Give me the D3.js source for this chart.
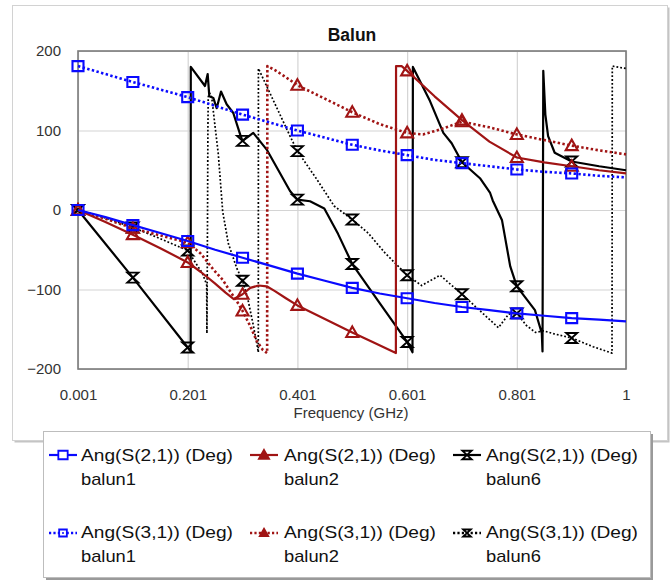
<!DOCTYPE html>
<html><head><meta charset="utf-8">
<script src="https://cdn.jsdelivr.net/npm/d3@7"></script>
<style>
body{margin:0;background:#fff;}
svg{display:block;font-family:"Liberation Sans",Arial,sans-serif;}
</style></head><body>
<svg id="c" width="670" height="581"></svg>
<script>
// ---------- data ----------
const chartTitle = "Balun";
const xTitle = "Frequency (GHz)";
const xTicks = [0.001, 0.201, 0.401, 0.601, 0.801, 1];
const xTickLabels = ["0.001", "0.201", "0.401", "0.601", "0.801", "1"];
const yTicks = [-200, -100, 0, 100, 200];
const markerFreqs = [0.001, 0.101, 0.201, 0.301, 0.401, 0.501, 0.601, 0.701, 0.801, 0.901];

const balun1_S21 = [[0.001,0],[0.051,-9],[0.101,-19],[0.151,-29],[0.201,-39],[0.251,-50],[0.301,-60],[0.351,-70],[0.401,-80],[0.451,-89],[0.501,-98],[0.551,-105],[0.601,-111],[0.651,-117],[0.701,-122],[0.751,-126],[0.801,-130],[0.851,-133],[0.901,-136],[0.951,-138],[1.0,-140]];
const balun1_S31 = [[0.001,181],[0.101,161],[0.201,142],[0.301,120],[0.401,100],[0.451,91],[0.501,82],[0.551,75],[0.601,69],[0.651,63],[0.701,59],[0.751,55],[0.801,51],[0.851,48],[0.901,46],[0.951,43],[1.0,41]];
const balun2_S21 = [[0.001,0],[0.051,-15],[0.101,-31],[0.151,-48],[0.201,-66],[0.225,-78],[0.25,-92],[0.27,-104],[0.285,-112],[0.301,-106],[0.315,-98],[0.33,-95],[0.345,-96],[0.36,-102],[0.38,-111],[0.401,-120],[0.451,-137],[0.501,-154],[0.541,-167],[0.5805,-180],[0.5808,181],[0.591,181],[0.601,175],[0.651,143],[0.701,113],[0.751,86],[0.801,66],[0.851,60],[0.901,55],[0.951,50],[1.0,46]];
const balun2_S31 = [[0.001,0],[0.051,-11],[0.101,-23],[0.151,-32],[0.201,-41],[0.225,-55],[0.248,-75],[0.265,-88],[0.278,-102],[0.29,-114],[0.301,-127],[0.315,-146],[0.327,-165],[0.338,-176],[0.3458,-180],[0.3462,181],[0.36,176],[0.38,167],[0.401,157],[0.451,140],[0.501,123],[0.551,108],[0.601,97],[0.63,95],[0.66,101],[0.701,111],[0.751,104],[0.801,95],[0.851,88],[0.901,81],[0.951,75],[1.0,70]];
const balun6_S21 = [[0.001,0],[0.101,-85],[0.201,-173],[0.2064,-178],[0.2066,180],[0.2325,156],[0.2374,171],[0.2404,143],[0.2477,141],[0.2538,128],[0.2617,149],[0.272,133],[0.2841,122],[0.2976,93],[0.301,87],[0.3205,97],[0.345,76],[0.3875,24],[0.401,13],[0.424,11],[0.45,2],[0.475,-30],[0.501,-68],[0.551,-117],[0.601,-166],[0.6108,-179],[0.6115,180],[0.6427,137],[0.667,97],[0.6822,84],[0.701,60],[0.7338,40],[0.752,22],[0.757,12],[0.774,-13],[0.789,-71],[0.801,-96],[0.834,-126],[0.8465,-155],[0.8478,-178],[0.8492,175],[0.853,120],[0.858,93],[0.87,72],[0.901,61],[0.951,55],[1.0,50]];
const balun6_S31 = [[0.001,0],[0.051,-10],[0.101,-22],[0.151,-36],[0.201,-51],[0.215,-66],[0.228,-80],[0.2356,-94],[0.236,-155],[0.2365,-94],[0.2372,0],[0.2378,100],[0.2384,142],[0.241,147],[0.2447,142],[0.2568,70],[0.2648,-2],[0.275,-42],[0.2903,-73],[0.301,-89],[0.31,-110],[0.32,-143],[0.327,-168],[0.3297,-179],[0.3299,178],[0.3875,93],[0.401,74],[0.435,40],[0.468,5],[0.501,-12],[0.53,-29],[0.5606,-54],[0.601,-82],[0.6275,-95],[0.661,-82],[0.701,-106],[0.7674,-148],[0.786,-131],[0.801,-130],[0.818,-145],[0.835,-154],[0.85,-152],[0.87,-156],[0.901,-161],[0.94,-172],[0.9745,-180],[0.975,181],[1.0,178]];

const legendLine1 = ["Ang(S(2,1)) (Deg)", "Ang(S(3,1)) (Deg)"];
const legendLine2 = ["balun1", "balun2", "balun6"];

// ---------- styles ----------
const BLUE = "#0a0aff", RED = "#a01414", BLACK = "#000";
const series = [
  {data: balun6_S31, color: BLACK, width: 1.7, dash: "1.8,2", shape: "hour", col: 2, row: 1},
  {data: balun6_S21, color: BLACK, width: 2.2, dash: null, shape: "hour", col: 2, row: 0},
  {data: balun2_S31, color: RED, width: 2.6, dash: "2.4,2.4", shape: "tri", col: 1, row: 1},
  {data: balun2_S21, color: RED, width: 2.2, dash: null, shape: "tri", col: 1, row: 0},
  {data: balun1_S31, color: BLUE, width: 2.6, dash: "2.4,2.4", shape: "sq", col: 0, row: 1},
  {data: balun1_S21, color: BLUE, width: 2.2, dash: null, shape: "sq", col: 0, row: 0}
];

const svg = d3.select("#c");
const L = 78, R = 626, T = 51, B = 369;
const x = d3.scaleLinear().domain([0.001, 1]).range([L, R]);
const y = d3.scaleLinear().domain([-200, 200]).range([B, T]);

// chart frame with shadow
svg.append("rect").attr("x", 14.5).attr("y", 7.5).attr("width", 655).attr("height", 435).attr("fill", "#c4c4c4");
svg.append("rect").attr("x", 12.5).attr("y", 5.5).attr("width", 655).attr("height", 435)
  .attr("fill", "#fff").attr("stroke", "#d2d2d2");

// title
svg.append("text").attr("x", 352).attr("y", 41).attr("text-anchor", "middle")
  .attr("font-size", 17.5).attr("font-weight", "bold").attr("fill", "#111").text(chartTitle);

// grid
const gx = svg.append("g").attr("transform", `translate(0,${B})`)
  .call(d3.axisBottom(x).tickValues(xTicks).tickSize(-(B - T)).tickFormat(""));
gx.select(".domain").remove();
gx.selectAll("line").attr("stroke", "#d4d4d4").attr("stroke-width", 1.2);
const gy = svg.append("g").attr("transform", `translate(${L},0)`)
  .call(d3.axisLeft(y).tickValues(yTicks).tickSize(-(R - L)).tickFormat(""));
gy.select(".domain").remove();
gy.selectAll("line").attr("stroke", "#d4d4d4").attr("stroke-width", 1.2);

// tick labels
const ax = svg.append("g").attr("transform", `translate(0,${B})`)
  .call(d3.axisBottom(x).tickValues(xTicks).tickSize(0).tickPadding(20).tickFormat((d, i) => xTickLabels[i]));
ax.select(".domain").remove();
ax.selectAll("text").attr("font-size", 15).attr("fill", "#333").attr("font-family", "Liberation Sans, Arial, sans-serif");
const ay = svg.append("g").attr("transform", `translate(${L},0)`)
  .call(d3.axisLeft(y).tickValues(yTicks).tickSize(0).tickPadding(17));
ay.select(".domain").remove();
ay.selectAll("text").attr("font-size", 15).attr("fill", "#333").attr("font-family", "Liberation Sans, Arial, sans-serif");

svg.append("text").attr("x", 351).attr("y", 418).attr("text-anchor", "middle")
  .attr("font-size", 15).attr("fill", "#333").text(xTitle);

// plot border
svg.append("rect").attr("x", L).attr("y", T).attr("width", R - L).attr("height", B - T)
  .attr("fill", "none").attr("stroke", "#7a7a7a").attr("stroke-width", 1.6);

// marker shapes
function shapePath(s, k) {
  if (s === "sq") return `M${-5.5*k},${-5*k}h${11*k}v${10*k}h${-11*k}Z`;
  if (s === "tri") return `M0,${-6*k}L${6*k},${4.5*k}L${-6*k},${4.5*k}Z`;
  return `M${-5.5*k},${-5*k}L${5.5*k},${-5*k}L${-5.5*k},${5*k}L${5.5*k},${5*k}Z`;
}

const line = d3.line().x(d => x(d[0])).y(d => y(d[1]));
const isMarker = f => markerFreqs.some(m => Math.abs(m - f) < 1e-6);

series.forEach(s => {
  const g = svg.append("g");
  g.append("path").datum(s.data).attr("d", line).attr("fill", "none")
    .attr("stroke", s.color).attr("stroke-width", s.width)
    .attr("stroke-dasharray", s.dash).attr("stroke-linejoin", "round");
  g.selectAll("path.m").data(s.data.filter(d => isMarker(d[0]))).join("path")
    .attr("class", "m")
    .attr("transform", d => `translate(${x(d[0])},${y(d[1])})`)
    .attr("d", shapePath(s.shape, 1))
    .attr("fill", "none").attr("stroke", s.color).attr("stroke-width", s.shape === "hour" ? 1.9 : 2.1);
});

// legend
svg.append("rect").attr("x", 46).attr("y", 434).attr("width", 607).attr("height", 146).attr("fill", "#9a9a9a");
svg.append("rect").attr("x", 43.5).attr("y", 431.5).attr("width", 607).attr("height", 146)
  .attr("fill", "#fff").attr("stroke", "#bdbdbd");

const colSym = [49, 250, 453], colText = [81, 284, 486];
const rowSym = [455, 533], rowBase1 = [461, 538], rowBase2 = [485, 562];
series.forEach(s => {
  const g = svg.append("g");
  const x0 = colSym[s.col], yy = rowSym[s.row];
  g.append("line").attr("x1", x0).attr("x2", x0 + 28).attr("y1", yy).attr("y2", yy)
    .attr("stroke", s.color).attr("stroke-width", s.dash ? 2.4 : 2.2).attr("stroke-dasharray", s.dash ? "2.2,2.2" : null);
  const filled = s.shape === "tri";
  g.append("path").attr("transform", `translate(${x0 + 14},${yy})`)
    .attr("d", shapePath(s.shape, s.row === 0 ? 0.85 : 0.7))
    .attr("fill", filled ? s.color : "#fff").attr("stroke", s.color).attr("stroke-width", 1.8);
  if (!filled && s.row === 1) {
    g.append("circle").attr("cx", x0 + 14).attr("cy", yy).attr("r", 1).attr("fill", s.color);
  }
  g.append("text").attr("x", colText[s.col]).attr("y", rowBase1[s.row])
    .attr("font-size", 17).attr("fill", "#111").attr("textLength", 152).attr("lengthAdjust", "spacingAndGlyphs")
    .text(legendLine1[s.row]);
  g.append("text").attr("x", colText[s.col]).attr("y", rowBase2[s.row])
    .attr("font-size", 17).attr("fill", "#111").attr("textLength", 55).attr("lengthAdjust", "spacingAndGlyphs")
    .text(legendLine2[s.col]);
});
</script>
</body></html>
